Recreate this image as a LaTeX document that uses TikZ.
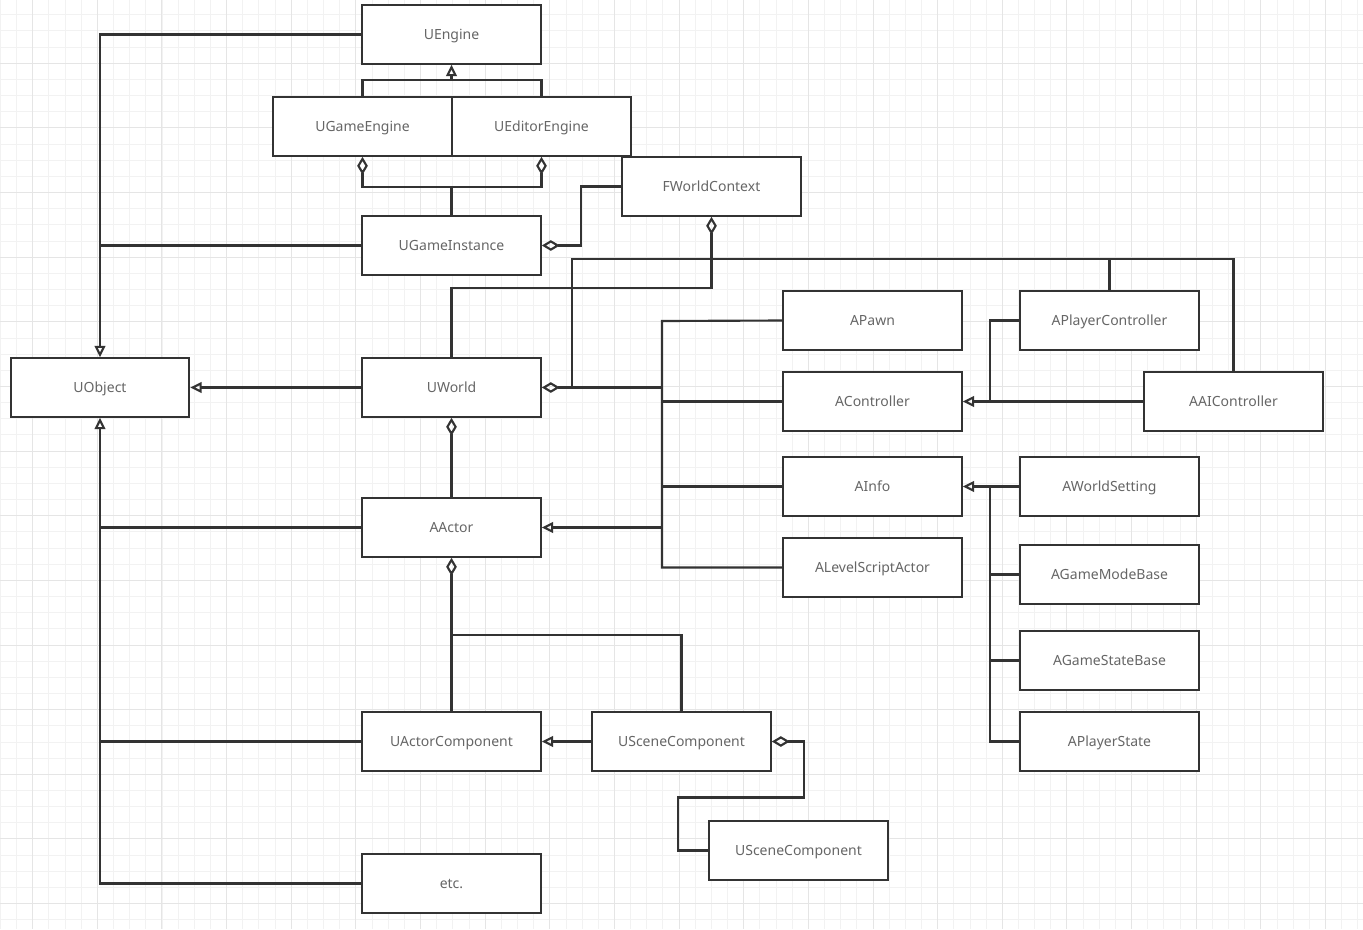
\documentclass[tikz,border=0pt]{standalone}
\usepackage{fontspec}
\setmainfont{Noto Sans}
\usetikzlibrary{arrows.meta, positioning}

\begin{document}
\begin{tikzpicture}[
    x=0.75pt, y=-0.75pt,
    classbox/.style={
        rectangle,
        draw=black!80,
        line width=1.5pt,
        fill=white,
        minimum width=134pt,
        minimum height=44pt,
        inner sep=0pt,
        text height=7.6pt,
        text depth=0pt,
        text=black!60,
        font=\fontsize{10.5}{12}\selectfont
    },
    link/.style={
        draw=black!80,
        line width=1.6pt
    },
    inherit/.style={
        link,
        -{Triangle[open, length=8.5pt, width=8pt]}
    },
    aggr/.style={
        link,
        {Diamond[open, length=13.5pt, width=8pt]}-
    },
    minorline/.style={draw=black!5, line width=0.75pt},
    majorline/.style={draw=black!10, line width=0.75pt}
]

% Hintergrund
\useasboundingbox (0,0) rectangle (1363,929);
\fill[white] (0,0) rectangle (1363,929);
\foreach \i in {0,...,84} {
    \draw[minorline] ({0.4+16.16*\i},0) -- ({0.4+16.16*\i},929);
}
\foreach \j in {0,...,57} {
    \draw[minorline] (0,{14.8+16.16*\j}) -- (1363,{14.8+16.16*\j});
}
\foreach \i in {0,...,20} {
    \draw[majorline] ({32.7+64.64*\i},0) -- ({32.7+64.64*\i},929);
}
\foreach \j in {0,...,13} {
    \draw[majorline] (0,{63.3+64.64*\j}) -- (1363,{63.3+64.64*\j});
}

% Engine
\node[classbox] (uengine) at (451.5,34.5) {UEngine};
\node[classbox] (ugameengine) at (362.5,126.5) {UGameEngine};
\node[classbox] (ueditorengine) at (541.5,126.5) {UEditorEngine};
\node[classbox] (fworldcontext) at (711.5,186.5) {FWorldContext};
\node[classbox] (ugameinstance) at (451.5,245.5) {UGameInstance};

% Object, World, Actor
\node[classbox] (uobject) at (100,387.5) {UObject};
\node[classbox] (uworld) at (451.5,387.5) {UWorld};
\node[classbox] (aactor) at (451.5,527.5) {AActor};
\node[classbox] (uactorcomponent) at (451.5,741.5) {UActorComponent};
\node[classbox] (uscenecomponent) at (681.5,741.5) {USceneComponent};
\node[classbox] (uscenechild) at (798.5,850.5) {USceneComponent};
\node[classbox] (etc) at (451.5,883.5) {etc.};

% Actor-Unterklassen
\node[classbox] (apawn) at (872.5,320.5) {APawn};
\node[classbox] (acontroller) at (872.5,401.5) {AController};
\node[classbox] (ainfo) at (872.5,486.5) {AInfo};
\node[classbox] (alevelscriptactor) at (872.5,567.5) {ALevelScriptActor};
\node[classbox] (aplayercontroller) at (1109.5,320.5) {APlayerController};
\node[classbox] (aaicontroller) at (1233.5,401.5) {AAIController};
\node[classbox] (aworldsetting) at (1109.5,486.5) {AWorldSetting};
\node[classbox] (agamemodebase) at (1109.5,574.5) {AGameModeBase};
\node[classbox] (agamestatebase) at (1109.5,660.5) {AGameStateBase};
\node[classbox] (aplayerstate) at (1109.5,741.5) {APlayerState};

% Hilfspunkte
\coordinate (engj) at (451.5,80);
\coordinate (gij) at (451.5,187);
\coordinate (abus) at (662,321);
\coordinate (wctl) at (572,259);
\coordinate (acj) at (451.5,635);

% Vererbung zu UObject
\draw[inherit] (uengine.west) -| (uobject.north);
\draw[link] (ugameinstance.west) -- (ugameinstance.west -| uobject.north);
\draw[inherit] (uworld.west) -- (uobject.east);
\draw[inherit] (etc.west) -| (uobject.south);
\draw[link] (aactor.west) -- (aactor.west -| uobject.south);
\draw[link] (uactorcomponent.west) -- (uactorcomponent.west -| uobject.south);

% Engine-Hierarchie
\draw[link] (ugameengine.north) |- (engj) -| (ueditorengine.north);
\draw[inherit] (engj) -- (uengine.south);
\draw[aggr] (ugameengine.south) |- (gij);
\draw[aggr] (ueditorengine.south) |- (gij);
\draw[link] (gij) -- (ugameinstance.north);
\draw[aggr] (ugameinstance.east) -- ++(39,0) |- (fworldcontext.west);
\draw[aggr] (fworldcontext.south) -- ++(0,71) -| (uworld.north);

% World
\draw[aggr] (uworld.east) -- (uworld.east -| abus);
\draw[link] (uworld.east -| wctl) -- (wctl) -| (aaicontroller.north);
\draw[link] (aplayercontroller.north) -- (aplayercontroller.north |- wctl);
\draw[aggr] (uworld.south) -- (aactor.north);

% Actor-Bus
\draw[link] (apawn.west) -- (abus) |- (alevelscriptactor.west);
\draw[link] (acontroller.west) -- (acontroller.west -| abus);
\draw[link] (ainfo.west) -- (ainfo.west -| abus);
\draw[inherit] (aactor.east -| abus) -- (aactor.east);

% Controller
\draw[inherit] (aaicontroller.west) -- (acontroller.east);
\draw[link] (aplayercontroller.west) -- ++(-29,0) -- ++(0,81);

% Info
\draw[inherit] (aworldsetting.west) -- (ainfo.east);
\draw[link] (aplayerstate.west) -- ++(-29,0) -- ++(0,-255);
\draw[link] (agamemodebase.west) -- ++(-29,0);
\draw[link] (agamestatebase.west) -- ++(-29,0);

% Komponenten
\draw[aggr] (aactor.south) -- (uactorcomponent.north);
\draw[link] (acj) -| (uscenecomponent.north);
\draw[inherit] (uscenecomponent.west) -- (uactorcomponent.east);
\draw[aggr] (uscenecomponent.east) -- ++(32,0) -- ++(0,56) -- ++(-126,0) |- (uscenechild.west);

\end{tikzpicture}
\end{document}
